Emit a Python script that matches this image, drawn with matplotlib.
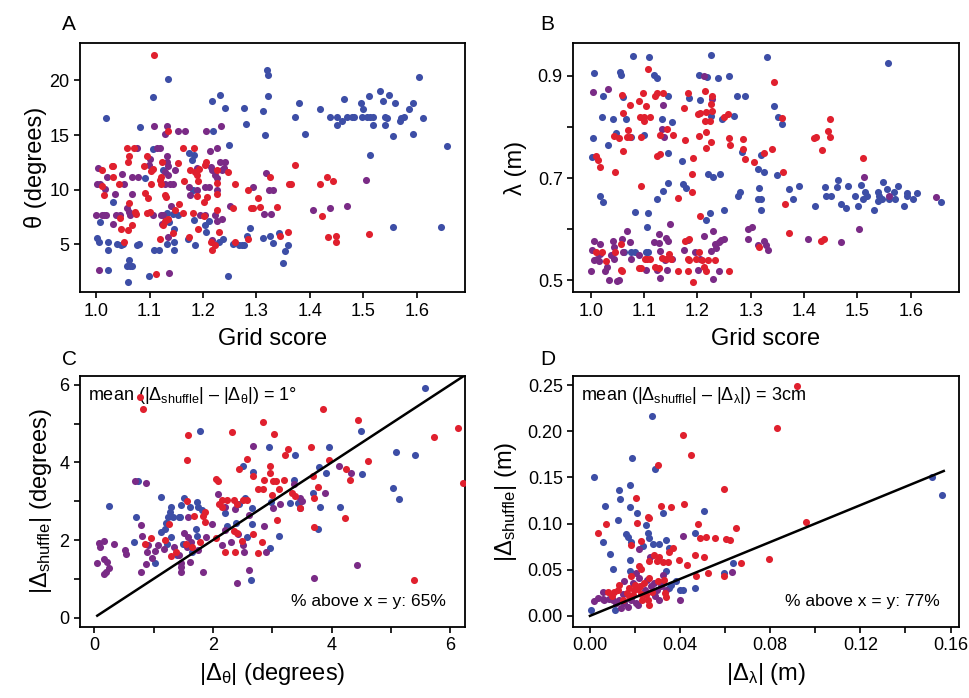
import numpy as np
import matplotlib
matplotlib.use('Agg')
import matplotlib.pyplot as plt

plt.rcParams['font.family'] = ['Liberation Sans', 'DejaVu Sans']
plt.rcParams['mathtext.fontset'] = 'custom'
plt.rcParams['mathtext.rm'] = 'Liberation Sans'
plt.rcParams['mathtext.it'] = 'Liberation Sans'
plt.rcParams['mathtext.default'] = 'regular'

BLUE = '#3d4ea6'
PURPLE = '#7a2b86'
RED = '#e0202e'

# ---- panel A: grid score vs orientation theta
a_blue = [(1.135,20.1),(1.106,18.5),(1.019,16.6),(1.082,15.7),(1.219,15.4),(1.217,18.1),(1.231,18.7),(1.242,17.5),(1.276,17.5),(1.280,16.0),(1.249,14.1),(1.319,21.0),(1.321,20.5),(1.321,18.6),(1.313,17.2),(1.315,15.0),(1.372,16.7),(1.379,17.9),(1.390,15.1),(1.419,17.4),(1.437,16.7),(1.450,16.7),(1.450,15.9),(1.460,16.3),(1.464,18.3),(1.469,16.7),(1.478,16.7),(1.483,16.7),(1.495,17.9),(1.500,17.4),(1.497,16.7),(1.506,16.7),(1.512,16.7),(1.518,16.7),(1.517,15.9),(1.511,18.6),(1.531,19.0),(1.537,18.1),(1.548,18.7),(1.540,16.7),(1.545,16.6),(1.540,15.9),(1.559,17.9),(1.568,16.3),(1.571,16.6),(1.576,16.7),(1.586,17.4),(1.592,17.9),(1.593,15.1),(1.555,14.9),(1.603,20.3),(1.611,16.6),(1.656,14.0),(1.513,13.2),(1.556,6.6),(1.646,6.6),
          (1.107,13.7),(1.174,13.4),(1.184,13.2),(1.180,12.7),(1.126,11.8),(1.092,11.1),(1.182,10.0),(1.032,8.9),(1.133,7.9),(1.143,7.8),(1.154,7.7),(1.007,7.0),(1.137,7.0),(1.183,7.2),(1.204,6.8),(1.211,7.1),(1.145,6.4),(1.205,6.1),(1.288,6.5),(1.001,5.6),(1.006,5.2),(1.023,5.2),(1.040,5.0),(1.046,4.9),(1.051,5.0),(1.076,4.9),(1.080,5.0),(1.145,5.2),(1.133,5.0),(1.171,5.5),(1.185,4.9),(1.229,5.2),(1.238,5.5),(1.257,5.0),(1.268,4.9),(1.273,4.9),(1.277,4.9),(1.283,5.8),(1.312,5.6),(1.325,5.8),(1.331,5.1),(1.342,6.0),(1.358,4.9),(1.353,4.4),(1.349,3.3),(1.023,4.5),(1.108,4.5),(1.117,4.5),(1.146,4.5),(1.062,3.6),(1.057,3.0),(1.064,3.0),(1.068,3.0),(1.023,2.6),(1.099,2.1),(1.246,2.1),(1.060,1.5)]
a_purple = [(1.108,15.8),(1.133,15.8),(1.129,15.1),(1.153,15.4),(1.167,15.4),(1.206,15.4),(1.233,15.8),(1.504,10.9),(1.469,8.5),(1.437,8.3),(1.406,8.1),
            (1.077,13.8),(1.113,13.8),(1.120,13.8),(1.213,13.5),(1.226,13.8),(1.101,12.8),(1.133,13.1),(1.133,12.5),(1.232,12.5),(1.241,12.5),(1.004,12.0),(1.099,12.3),(1.135,12.2),(1.148,11.8),(1.188,12.0),(1.214,12.1),(1.216,11.8),(1.235,11.8),(1.239,12.0),(1.020,11.2),(1.049,11.4),(1.068,11.2),(1.079,11.2),(1.129,11.6),(1.135,11.3),(1.222,11.3),(1.226,11.1),(1.317,11.5),(1.002,10.5),(1.007,10.5),(1.017,10.1),(1.052,10.5),(1.129,10.5),(1.138,10.5),(1.143,10.5),(1.174,10.2),(1.188,10.0),(1.204,10.2),(1.211,10.2),(1.227,10.0),(1.294,10.2),(1.324,10.0),(1.331,10.0),(1.036,9.6),(1.067,9.6),(1.176,9.5),(1.250,8.5),(1.141,8.5),(1.057,8.3),(1.061,8.0),(1.000,7.7),(1.011,7.7),(1.015,7.7),(1.019,7.7),(1.037,7.7),(1.045,7.7),(1.064,7.7),(1.107,7.7),(1.121,7.7),(1.126,7.7),(1.194,7.7),(1.204,7.7),(1.222,7.7),(1.235,7.3),(1.314,7.8),(1.327,7.8),(1.032,6.9),(1.123,6.9),(1.227,7.1),(1.135,5.7),(1.217,5.4),(1.006,2.6),(1.136,2.4)]
a_red = [(1.109,22.3),(1.135,15.4),(1.444,10.8),(1.433,5.7),(1.449,5.8),(1.449,5.2),(1.510,5.9),(1.431,11.2),(1.419,10.5),(1.422,7.6),
         (1.057,13.8),(1.070,13.8),(1.163,13.8),(1.183,13.8),(1.062,13.1),(1.095,13.1),(1.059,12.5),(1.123,12.5),(1.153,12.4),(1.205,12.5),(1.372,12.3),(1.011,11.8),(1.029,12.2),(1.032,12.2),(1.090,12.2),(1.107,11.9),(1.176,11.8),(1.193,11.9),(1.185,11.6),(1.204,12.3),(1.226,11.8),(1.247,11.6),(1.031,11.2),(1.103,11.7),(1.120,10.9),(1.121,11.2),(1.188,11.3),(1.326,11.2),(1.012,10.3),(1.042,10.5),(1.103,10.5),(1.121,10.5),(1.164,10.8),(1.191,10.8),(1.260,10.5),(1.361,10.5),(1.364,10.5),(1.226,10.6),(1.285,10.0),(1.014,9.5),(1.092,9.7),(1.129,9.5),(1.131,9.3),(1.188,9.4),(1.226,9.6),(1.303,9.2),(1.062,8.8),(1.098,9.2),(1.201,8.9),(1.208,9.3),(1.155,8.7),(1.148,8.1),(1.162,7.9),(1.072,8.0),(1.075,7.8),(1.095,7.9),(1.100,8.0),(1.182,7.9),(1.202,7.6),(1.227,8.1),(1.257,8.3),(1.289,8.3),(1.294,8.3),(1.307,8.4),(1.338,8.4),(1.045,7.4),(1.135,7.3),(1.129,7.1),(1.126,6.8),(1.067,6.8),(1.046,6.4),(1.060,6.3),(1.191,6.4),(1.229,6.1),(1.052,5.2),(1.120,5.5),(1.143,6.0),(1.173,5.7),(1.215,5.2),(1.223,4.9),(1.216,4.5),(1.260,5.2),(1.285,5.5),(1.344,5.8),(1.358,6.1),(1.112,2.3)]

# ---- panel B: grid score vs scale lambda
b_blue = [(1.079,0.939),(1.109,0.938),(1.005,0.905),(1.055,0.908),(1.057,0.902),(1.118,0.902),(1.124,0.897),(1.225,0.942),(1.203,0.901),(1.218,0.899),(1.239,0.897),(1.259,0.900),(1.331,0.938),(1.022,0.861),(1.061,0.858),(1.144,0.861),(1.184,0.857),(1.205,0.853),(1.275,0.861),(1.289,0.861),(1.343,0.842),(1.021,0.819),(1.041,0.816),(1.066,0.816),(1.133,0.815),(1.153,0.809),(1.226,0.822),(1.246,0.815),(1.269,0.822),(1.352,0.819),(1.004,0.778),(1.033,0.765),(1.047,0.788),(1.076,0.780),(1.099,0.785),(1.284,0.752),(1.144,0.750),(1.171,0.733),(1.320,0.745),(1.003,0.741),(1.313,0.718),(1.324,0.711),(1.350,0.706),(1.220,0.707),(1.230,0.703),(1.242,0.707),(1.144,0.690),(1.173,0.688),(1.179,0.680),(1.135,0.674),(1.125,0.659),(1.018,0.665),(1.023,0.654),(1.276,0.665),(1.280,0.672),(1.316,0.680),(1.313,0.659),(1.320,0.659),(1.319,0.637),(1.249,0.637),(1.083,0.633),(1.108,0.631),(1.105,0.605),(1.216,0.618),(1.224,0.631),(1.063,0.556),(1.076,0.556),(1.083,0.556),(1.103,0.556),(1.107,0.556),
          (1.557,0.925),(1.358,0.806),(1.372,0.678),(1.390,0.685),(1.380,0.659),(1.421,0.645),(1.439,0.682),(1.441,0.664),(1.451,0.664),(1.461,0.682),(1.464,0.696),(1.469,0.650),(1.478,0.642),(1.482,0.684),(1.496,0.664),(1.501,0.646),(1.507,0.686),(1.514,0.673),(1.519,0.664),(1.511,0.659),(1.532,0.637),(1.539,0.673),(1.541,0.664),(1.538,0.655),(1.546,0.659),(1.560,0.659),(1.549,0.693),(1.556,0.679),(1.568,0.673),(1.571,0.659),(1.577,0.684),(1.587,0.645),(1.593,0.671),(1.593,0.664),(1.604,0.659),(1.612,0.670),(1.657,0.654)]
b_purple = [(1.213,0.900),(1.004,0.868),(1.032,0.874),(1.136,0.844),(1.227,0.854),(1.133,0.797),(1.138,0.781),(1.148,0.610),(1.068,0.597),(1.229,0.596),(1.213,0.586),(1.295,0.601),(1.303,0.605),(1.294,0.580),(1.314,0.569),(1.324,0.576),(1.328,0.569),(1.333,0.559),
            (1.005,0.576),(1.003,0.559),(1.018,0.571),(1.018,0.552),(1.005,0.539),(1.011,0.542),(1.016,0.538),(1.001,0.518),(1.030,0.526),(1.027,0.518),(1.034,0.501),(1.049,0.499),(1.052,0.500),(1.041,0.576),(1.044,0.565),(1.038,0.549),(1.043,0.542),(1.058,0.580),(1.061,0.556),(1.075,0.542),(1.073,0.575),(1.091,0.549),(1.104,0.520),(1.118,0.575),(1.128,0.572),(1.129,0.557),(1.127,0.590),(1.124,0.520),(1.129,0.505),(1.139,0.539),(1.143,0.520),(1.141,0.582),(1.144,0.576),(1.153,0.542),(1.174,0.559),(1.182,0.578),(1.196,0.556),(1.205,0.542),(1.201,0.520),(1.226,0.557),(1.233,0.571),(1.234,0.562),(1.230,0.502),(1.240,0.518),(1.241,0.575),(1.245,0.578),(1.249,0.580),
            (1.513,0.703),(1.560,0.664),(1.647,0.662),(1.407,0.580),(1.469,0.575),(1.504,0.601)]
b_red = [(1.108,0.913),(1.343,0.888),(1.059,0.863),(1.074,0.844),(1.091,0.851),(1.098,0.866),(1.104,0.841),(1.120,0.861),(1.125,0.866),(1.135,0.866),(1.174,0.837),(1.182,0.866),(1.214,0.871),(1.227,0.861),(1.225,0.846),(1.227,0.832),(1.060,0.827),(1.093,0.820),(1.099,0.819),(1.100,0.812),(1.111,0.820),(1.201,0.825),(1.205,0.827),(1.216,0.830),(1.215,0.811),(1.223,0.812),(1.249,0.819),(1.258,0.825),(1.044,0.783),(1.053,0.778),(1.069,0.794),(1.067,0.780),(1.073,0.780),(1.094,0.780),(1.129,0.784),(1.143,0.797),(1.155,0.784),(1.176,0.775),(1.202,0.782),(1.216,0.791),(1.226,0.771),(1.216,0.759),(1.260,0.778),(1.261,0.765),(1.285,0.776),(1.285,0.756),(1.060,0.753),(1.124,0.744),(1.129,0.748),(1.191,0.740),(1.290,0.737),(1.307,0.731),(1.325,0.750),(1.339,0.757),(1.010,0.743),(1.013,0.735),(1.018,0.722),(1.046,0.711),(1.189,0.707),(1.094,0.684),(1.189,0.673),(1.164,0.661),(1.205,0.626),(1.316,0.565),
         (1.010,0.556),(1.021,0.556),(1.029,0.537),(1.045,0.556),(1.057,0.571),(1.056,0.520),(1.059,0.518),(1.091,0.523),(1.095,0.524),(1.101,0.542),(1.106,0.542),(1.111,0.542),(1.120,0.526),(1.128,0.524),(1.133,0.544),(1.141,0.542),(1.146,0.552),(1.150,0.542),(1.163,0.518),(1.177,0.576),(1.185,0.581),(1.182,0.542),(1.184,0.539),(1.182,0.518),(1.191,0.497),(1.202,0.556),(1.198,0.542),(1.208,0.539),(1.213,0.526),(1.216,0.518),(1.219,0.539),(1.232,0.539),(1.260,0.518),
         (1.358,0.817),(1.449,0.816),(1.444,0.793),(1.449,0.780),(1.419,0.779),(1.422,0.780),(1.433,0.755),(1.511,0.739),(1.361,0.711),(1.365,0.650),(1.372,0.593),(1.432,0.576),(1.437,0.580)]

# ---- panel C: |delta theta| vs |delta shuffle|
c_blue = [(1.79,4.82),(2.95,4.41),(3.38,4.19),(2.50,3.92),(2.68,3.76),(3.37,3.55),(3.30,2.95),(3.43,2.95),(2.98,2.99),(2.54,3.08),(2.21,2.69),(2.44,2.93),(2.66,2.82),(3.12,2.11),(2.97,1.80),(2.66,2.41),(2.57,2.09),(2.23,2.36),(2.39,2.45),(1.82,2.78),(1.74,2.97),(1.75,2.84),(1.52,3.08),(1.61,2.84),(1.44,2.60),(1.46,2.91),(1.30,2.86),(1.28,2.73),(1.33,2.60),(1.24,2.60),(1.12,3.10),(1.21,2.43),(1.13,2.20),(1.20,2.28),(0.67,1.96),(0.71,2.60),(0.73,3.51),(0.24,2.88),(1.03,1.41),(1.50,1.90),(1.64,1.70),(1.74,2.11),(1.72,2.28),(1.40,1.61),(1.30,2.09),(1.23,1.91),(1.42,2.60),(2.64,0.97),
          (5.58,5.93),(4.49,4.80),(3.96,4.39),(3.79,3.88),(3.91,3.72),(4.51,3.71),(3.68,3.22),(3.81,2.84),(4.15,2.86),(3.77,2.28),(5.08,4.27),(5.40,4.18),(5.04,3.35),(5.14,3.06)]
c_purple = [(2.67,4.43),(3.37,3.44),(3.47,3.09),(3.46,2.82),(3.13,2.93),(3.02,2.82),(2.09,3.19),(2.21,2.84),(2.38,2.79),(2.61,2.65),(2.86,2.37),(2.89,1.70),(2.43,2.15),(2.51,1.87),(2.52,1.70),(2.20,2.26),(2.16,1.87),(2.30,1.94),(1.99,2.41),(1.89,2.09),(1.58,2.60),(1.17,1.78),(1.07,1.87),(1.02,1.71),(0.89,1.70),(0.91,1.87),(0.80,2.10),(0.79,2.40),(0.87,3.47),(0.69,3.51),(0.51,1.74),(0.54,1.63),(0.33,1.90),(0.17,1.97),(0.08,1.93),(0.10,1.81),(0.17,1.50),(0.21,1.44),(0.05,1.41),(0.24,1.27),(0.19,1.18),(0.16,1.12),(0.78,1.18),(0.87,1.37),(0.97,1.54),(1.34,1.83),(1.43,1.61),(1.47,1.41),(1.47,1.31),(1.46,1.18),(1.56,1.83),(1.58,2.09),(1.75,1.74),(1.63,1.96),(1.52,2.19),(1.84,1.18),(1.61,1.44),(2.40,0.88),(2.60,1.24),
            (4.12,3.92),(4.33,3.74),(3.89,3.22),(3.51,3.01),(4.43,1.35),(3.71,1.03)]
c_red = [(0.77,5.70),(0.826,5.38),(1.58,4.72),(1.56,4.07),(2.33,4.78),(2.85,5.03),(3.03,4.74),(3.26,4.34),(3.21,4.18),(2.58,4.09),(2.44,3.84),(2.05,3.57),(2.08,3.53),(2.68,3.64),(2.96,3.92),(2.96,3.72),(3.01,3.53),(2.86,3.55),(3.06,3.53),(3.19,3.55),(2.76,3.31),(2.85,3.32),(3.11,3.32),(3.33,3.22),(3.38,3.14),(2.99,3.16),(2.57,3.02),(2.40,2.93),(2.35,3.03),(2.24,3.03),(2.15,3.03),(2.10,2.92),(2.16,2.84),(2.51,3.02),(3.08,2.52),(2.68,2.16),(2.83,1.96),(2.76,1.67),(2.36,2.24),(2.40,2.17),(2.49,1.98),(2.21,1.70),(2.05,2.04),(2.38,1.68),(1.87,2.47),(1.87,2.73),(1.84,2.62),(1.68,2.63),(1.57,3.01),(1.26,2.41),(1.19,2.00),(0.96,2.04),(0.86,1.91),(1.30,1.59),(1.38,1.68),(1.54,1.90),(1.64,1.83),(1.78,1.96),
         (3.86,5.38),(4.44,5.10),(3.66,4.39),(3.96,4.07),(4.25,3.84),(4.31,3.55),(4.62,4.04),(3.68,3.64),(3.77,3.38),(3.70,3.08),(3.47,2.82),(4.22,2.58),(3.70,2.34),(5.72,4.66),(6.14,4.89),(6.22,3.47),(5.39,0.97)]

# ---- panel D: |delta lambda| vs |delta shuffle|
d_blue = [(0.0277,0.217),(0.0289,0.159),(0.0187,0.171),(0.0018,0.151),(0.0176,0.142),(0.0127,0.136),(0.0133,0.127),(0.0068,0.119),(0.0179,0.118),(0.0207,0.112),(0.0326,0.111),(0.0505,0.114),(0.0123,0.104),(0.0249,0.098),(0.0056,0.080),(0.0160,0.089),(0.0170,0.086),(0.0184,0.080),(0.0259,0.090),(0.0264,0.084),(0.0237,0.076),(0.0279,0.078),(0.0308,0.078),(0.0338,0.082),(0.0467,0.090),(0.0353,0.074),(0.0090,0.067),(0.0179,0.061),(0.0178,0.049),(0.0101,0.051),(0.0338,0.049),(0.0593,0.046),(0.0637,0.057),(0.0382,0.038),(0.0401,0.028),(0.0353,0.030),(0.0412,0.028),(0.0468,0.030),(0.0110,0.0065),(0.0003,0.0065),(0.0326,0.0355),(0.0360,0.0337),(0.152,0.150),(0.156,0.131)]
d_purple = [(0.0412,0.087),(0.0216,0.072),(0.0267,0.064),(0.0630,0.048),(0.0338,0.028),(0.0401,0.017),(0.0016,0.0156),(0.0037,0.0192),(0.0056,0.0181),(0.0064,0.0174),(0.0086,0.0181),(0.0104,0.0174),(0.0130,0.0174),(0.0138,0.0083),(0.0145,0.0239),(0.0153,0.0138),(0.0182,0.0174),(0.0193,0.0355),(0.0204,0.0138),(0.0215,0.0120),(0.0219,0.0409),(0.0246,0.0283),(0.0253,0.0391),(0.0271,0.0319),(0.0286,0.0355),(0.0290,0.0210),(0.0296,0.0283),(0.0308,0.0174),(0.0316,0.0319),(0.0323,0.0446),(0.0056,0.0264),(0.0116,0.0138),(0.0153,0.0373),(0.0204,0.0464),(0.0167,0.0101)]
d_red = [(0.0412,0.196),(0.0450,0.174),(0.0302,0.163),(0.0206,0.128),(0.0593,0.137),(0.0256,0.107),(0.0264,0.106),(0.0316,0.119),(0.0358,0.118),(0.0418,0.121),(0.0071,0.100),(0.0207,0.101),(0.0481,0.100),(0.0649,0.095),(0.0037,0.090),(0.0184,0.077),(0.0225,0.081),(0.0490,0.084),(0.0516,0.086),(0.0556,0.084),(0.0604,0.083),(0.0622,0.082),(0.0353,0.069),(0.0370,0.074),(0.0286,0.066),(0.0308,0.064),(0.0296,0.059),(0.0264,0.059),(0.0323,0.058),(0.0219,0.054),(0.0225,0.051),(0.0345,0.058),(0.0397,0.061),(0.0431,0.055),(0.0464,0.066),(0.0507,0.064),(0.0471,0.043),(0.0526,0.046),(0.0597,0.043),(0.0670,0.057),(0.0338,0.020),(0.0793,0.0616),
         (0.0079,0.0264),(0.0098,0.0217),(0.0108,0.0254),(0.0123,0.0283),(0.0163,0.0246),(0.0172,0.0301),(0.0175,0.0210),(0.0190,0.0228),(0.0197,0.0283),(0.0201,0.0337),(0.0212,0.0290),(0.0224,0.0319),(0.0227,0.0239),(0.0231,0.0174),(0.0241,0.0355),(0.0249,0.0228),(0.0258,0.0174),(0.0261,0.0120),(0.0264,0.0409),(0.0276,0.0264),(0.0301,0.0373),(0.0330,0.0391),(0.0335,0.0246),(0.0145,0.0174),(0.0130,0.0337),(0.0182,0.0428),
         (0.083,0.204),(0.092,0.249),(0.0957,0.102)]

pct_above_c = 65
pct_above_d = 77

fig = plt.figure(figsize=(9.69, 6.98), dpi=100)
axA = fig.add_axes([0.0826, 0.5812, 0.3973, 0.3567])
axB = fig.add_axes([0.5916, 0.5812, 0.3977, 0.3567])
axC = fig.add_axes([0.0826, 0.1018, 0.3973, 0.3596])
axD = fig.add_axes([0.5916, 0.1018, 0.3977, 0.3596])


def dots(ax, pts, col):
    arr = np.array(pts)
    ax.scatter(arr[:, 0], arr[:, 1], s=26, color=col, linewidths=0, zorder=3)


def style(ax):
    for sp in ax.spines.values():
        sp.set_linewidth(1.3)
    ax.tick_params(direction='out', length=4, width=1.2, labelsize=13, top=False, right=False)


for ax, groups in [(axA, (a_blue, a_purple, a_red)), (axB, (b_blue, b_purple, b_red)),
                   (axC, (c_blue, c_purple, c_red)), (axD, (d_blue, d_purple, d_red))]:
    for pts, col in zip(groups, (BLUE, PURPLE, RED)):
        dots(ax, pts, col)
    style(ax)

# A
axA.set_xlim(0.970, 1.690)
axA.set_ylim(0.6, 23.4)
axA.set_xticks([1.0, 1.1, 1.2, 1.3, 1.4, 1.5, 1.6])
axA.set_yticks([5, 10, 15, 20])
axA.set_xlabel('Grid score', fontsize=17, labelpad=6)
axA.set_ylabel('θ (degrees)', fontsize=17, labelpad=2)

# B
axB.set_xlim(0.967, 1.690)
axB.set_ylim(0.476, 0.964)
axB.set_xticks([1.0, 1.1, 1.2, 1.3, 1.4, 1.5, 1.6])
axB.set_yticks([0.5, 0.6, 0.7, 0.8, 0.9])
axB.set_yticklabels(['0.5', '', '0.7', '', '0.9'])
axB.set_xlabel('Grid score', fontsize=17, labelpad=6)
axB.set_ylabel('λ (m)', fontsize=17, labelpad=8)

# C
axC.set_xlim(-0.24, 6.25)
axC.set_ylim(-0.24, 6.23)
axC.plot([0.05, 6.3], [0.05, 6.3], color='black', lw=1.8, zorder=4)
axC.set_xticks(range(7))
axC.set_xticklabels(['0', '', '2', '', '4', '', '6'])
axC.set_yticks(range(7))
axC.set_yticklabels(['0', '', '2', '', '4', '', '6'])
axC.set_xlabel(r'$|\Delta_{\theta}|$ (degrees)', fontsize=17, labelpad=5)
axC.set_ylabel(r'$|\Delta_{shuffle}|$ (degrees)', fontsize=17, labelpad=4)
axC.text(0.02, 0.965, r'mean (|$\Delta_{shuffle}$| – |$\Delta_{\theta}$|) = 1°', transform=axC.transAxes,
         fontsize=13, va='top', ha='left', zorder=2)
axC.text(0.95, 0.07, f'% above x = y: {pct_above_c}%', transform=axC.transAxes,
         fontsize=12.5, va='bottom', ha='right', zorder=5)

# D
axD.set_xlim(-0.0074, 0.1636)
axD.set_ylim(-0.012, 0.26)
axD.plot([0, 0.157], [0, 0.157], color='black', lw=1.8, zorder=4)
axD.set_xticks(np.arange(0, 0.161, 0.02))
axD.set_xticklabels(['0.00', '', '0.04', '', '0.08', '', '0.12', '', '0.16'])
axD.set_yticks([0, 0.05, 0.10, 0.15, 0.20, 0.25])
axD.set_yticklabels(['0.00', '0.05', '0.10', '0.15', '0.20', '0.25'])
axD.set_xlabel(r'$|\Delta_{\lambda}|$ (m)', fontsize=17, labelpad=5)
axD.set_ylabel(r'$|\Delta_{shuffle}|$ (m)', fontsize=17, labelpad=6)
axD.text(0.02, 0.965, r'mean (|$\Delta_{shuffle}$| – |$\Delta_{\lambda}$|) = 3cm', transform=axD.transAxes,
         fontsize=13, va='top', ha='left', zorder=2)
axD.text(0.95, 0.07, f'% above x = y: {pct_above_d}%', transform=axD.transAxes,
         fontsize=12.5, va='bottom', ha='right', zorder=5)

for lbl, x, y in [('A', 0.064, 0.978), ('B', 0.558, 0.978), ('C', 0.064, 0.498), ('D', 0.558, 0.498)]:
    fig.text(x, y, lbl, fontsize=15, va='top', ha='left')

fig.savefig('out.png', dpi=100)
